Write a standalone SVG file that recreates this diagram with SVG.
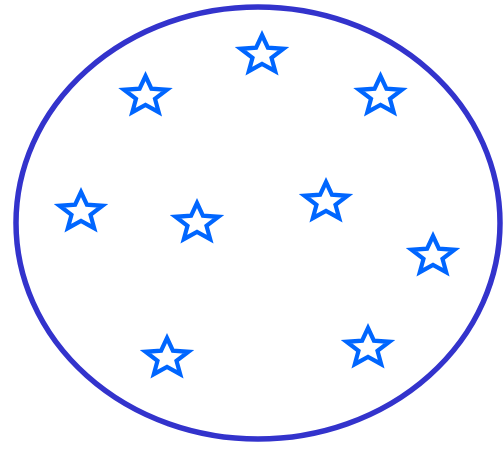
<svg xmlns="http://www.w3.org/2000/svg" xmlns:xlink="http://www.w3.org/1999/xlink" width="504" height="449" viewBox="0 0 504 449">
<style>
.ring{fill:none;stroke:#3333CC;stroke-width:5.5}
.star{fill:#FFFFFF;stroke:#0066FF;stroke-width:4.2;stroke-linejoin:miter;stroke-miterlimit:10}
</style>
<defs>
<path id="star" class="star" d="M0,-20 L5.9,-7.3 L21.5,-6.2 L9.5,2.8 L13.2,16.2 L0,9 L-13.2,16.2 L-9.5,2.8 L-21.5,-6.2 L-5.9,-7.3 Z"/>
</defs>
<rect width="504" height="449" fill="#FFFFFF"/>
<g id="boundary"><ellipse class="ring" cx="258" cy="223" rx="242" ry="216"/></g>
<g id="star1"><use xlink:href="#star" href="#star" x="262" y="55"/></g>
<g id="star2"><use xlink:href="#star" href="#star" x="145.5" y="96"/></g>
<g id="star3"><use xlink:href="#star" href="#star" x="380.5" y="96"/></g>
<g id="star4"><use xlink:href="#star" href="#star" x="81" y="212"/></g>
<g id="star5"><use xlink:href="#star" href="#star" x="197" y="223"/></g>
<g id="star6"><use xlink:href="#star" href="#star" x="326" y="202"/></g>
<g id="star7"><use xlink:href="#star" href="#star" x="433" y="256"/></g>
<g id="star8"><use xlink:href="#star" href="#star" x="167" y="358"/></g>
<g id="star9"><use xlink:href="#star" href="#star" x="368" y="348"/></g>
<g id="connectors"></g>
</svg>
